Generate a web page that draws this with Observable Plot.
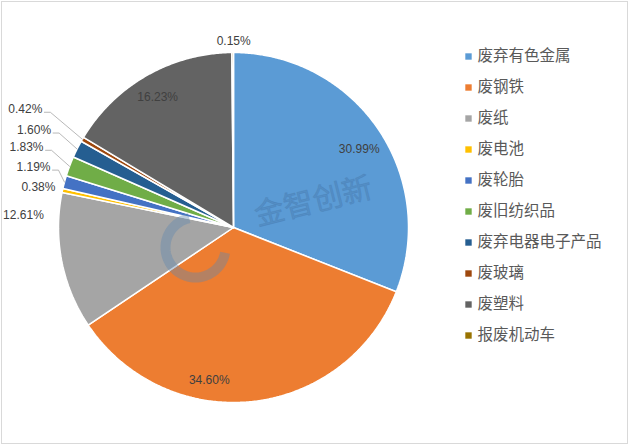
<!DOCTYPE html>
<html><head><meta charset="utf-8">
<script src="https://cdn.jsdelivr.net/npm/d3@7"></script>
<script src="https://cdn.jsdelivr.net/npm/@observablehq/plot@0.6"></script>
<style>
html,body{margin:0;padding:0;background:#fff;}
#chart{position:relative;width:629px;height:445px;overflow:hidden;}
#chart svg{position:absolute;left:0;top:0;}
</style></head><body><div id="chart"></div>
<script>
// ---- data ----
const categories = ["废弃有色金属","废钢铁","废纸","废电池","废轮胎","废旧纺织品","废弃电器电子产品","废玻璃","废塑料","报废机动车"];
const shares = [30.99, 34.60, 12.61, 0.38, 1.19, 1.83, 1.60, 0.42, 16.23, 0.15];
const labels = ["30.99%","34.60%","12.61%","0.38%","1.19%","1.83%","1.60%","0.42%","16.23%","0.15%"];
const colors = ["#5B9BD5","#ED7D31","#A5A5A5","#FFC000","#4472C4","#70AD47","#255E91","#9E480E","#636363","#997300"];

// ---- layout (pixel nudges of each label from its slice's outer mid point) ----
const R = 175, CX = 233, CY = 227;
const labelLayout = [
  {dx: -19, dy: 20, pos: "in"},
  {dx: -43, dy: -21, pos: "in"},
  {dx: -18, dy: -46, pos: "out"},
  {dx: -7, dy: -3, pos: "out"},
  {dx: -14, dy: -15, pos: "out", leader: true},
  {dx: -26, dy: -19, pos: "out", leader: true},
  {dx: -26, dy: -19, pos: "out", leader: true},
  {dx: -40, dy: -30, pos: "out", leader: true},
  {dx: 11, dy: 22, pos: "in"},
  {dx: 1, dy: -11, pos: "in"}
];

const pie = d3.pie().sort(null).value(d => d)(shares);

// slice polygons in unit coordinates (angle clockwise from 12 o'clock)
const slices = pie.map((p, i) => {
  const pts = [{x: 0, y: 0}];
  const n = Math.max(2, Math.ceil((p.endAngle - p.startAngle) / (Math.PI / 360)));
  for (let k = 0; k <= n; k++) {
    const a = p.startAngle + (p.endAngle - p.startAngle) * k / n;
    pts.push({x: Math.sin(a), y: Math.cos(a)});
  }
  pts.push({x: 0, y: 0});
  return pts;
});

const labelData = pie.map((p, i) => {
  const a = (p.startAngle + p.endAngle) / 2;
  const ex = Math.sin(a), ey = Math.cos(a);
  const L = labelLayout[i];
  return {i, label: labels[i], ex, ey, x: ex + L.dx / R, y: ey - L.dy / R, pos: L.pos, leader: L.leader};
});

const leaders = labelData.filter(d => d.leader).flatMap(d => [
  {i: d.i, x: d.x + 2 / R, y: d.y - 3 / R},
  {i: d.i, x: d.x + 8 / R, y: d.y - 3 / R},
  {i: d.i, x: d.ex, y: d.ey}
]);

// decorative watermark ring
const ring = d3.range(100, 352, 4).map(t => {
  const a = t * Math.PI / 180;
  return {x: -38 / R + Math.sin(a) * 30 / R, y: -20 / R + Math.cos(a) * 30 / R};
});

const font = "'Liberation Sans', Arial, sans-serif";

const pieChart = Plot.plot({
  width: 629, height: 445,
  marginLeft: 1, marginRight: 2, marginTop: 1, marginBottom: 2,
  x: {domain: [-1, 1], range: [CX - R, CX + R], axis: null},
  y: {domain: [-1, 1], range: [CY + R, CY - R], axis: null},
  style: {fontFamily: font, background: "transparent"},
  marks: [
    Plot.frame({stroke: "#d9d9d9"}),
    ...slices.map((pts, i) => Plot.line(pts, {x: "x", y: "y", fill: colors[i], stroke: "#ffffff", strokeWidth: 1.5, strokeLinejoin: "miter"})),
    Plot.line(ring, {x: "x", y: "y", stroke: "#5f86b0", strokeOpacity: 0.4, strokeWidth: 10, strokeLinecap: "butt"}),
    Plot.text(["金智创新"], {frameAnchor: "top-left", textAnchor: "middle", dx: 309, dy: 189, rotate: -14, fontSize: 30,
      fill: "#3f6d9e", fillOpacity: 0.28, stroke: "#3f6d9e", strokeOpacity: 0.25, strokeWidth: 0.8,
      fontFamily: "'Noto Sans CJK SC', sans-serif", text: d => d, letterSpacing: 6}),
    Plot.line(leaders, {x: "x", y: "y", z: "i", stroke: "#a6a6a6", strokeWidth: 0.8}),
    Plot.text(labelData.filter(d => d.pos === "in"), {x: "x", y: "y", text: "label", fill: "#404040", fontSize: 12, textAnchor: "middle"}),
    Plot.text(labelData.filter(d => d.pos === "out"), {x: "x", y: "y", text: "label", fill: "#404040", fontSize: 12, textAnchor: "end"})
  ]
});

const legend = Plot.plot({
  width: 629, height: 445, margin: 0,
  x: {domain: [0, 1], range: [468, 620], axis: null},
  y: {type: "point", domain: categories, range: [53.3, 338.3], padding: 0, axis: null},
  style: {background: "transparent", fontFamily: "'Noto Sans CJK SC', sans-serif"},
  marks: [
    Plot.dot(categories, {x: () => 0, y: d => d, symbol: "square", r: 3.6, fill: (d, i) => colors[i], stroke: null}),
    Plot.text(categories, {x: () => 0, y: d => d, text: d => d, dx: 9, textAnchor: "start", fontSize: 15.5, fill: "#595959"})
  ]
});

const el = document.getElementById("chart");
el.append(pieChart, legend);
</script>
</body></html>
